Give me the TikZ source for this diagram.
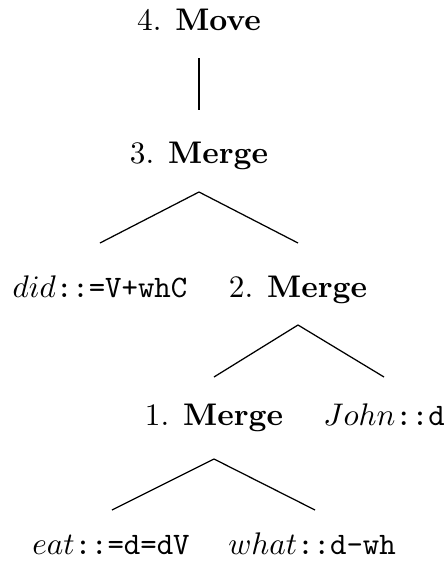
\documentclass[tikz,border=0pt]{standalone}
\usetikzlibrary{calc}
\begin{document}
\begin{tikzpicture}[x=0.32pt,y=0.32pt,
  lbl/.style={anchor=base,inner sep=0pt,font=\fontsize{10}{12}\selectfont},
  edge/.style={line width=0.4pt}]
\useasboundingbox (0,0) rectangle (444,-572);
\node[lbl] (m4) at (199,-31) {4. \textbf{Move}};
\node[lbl] (m3) at (199,-163) {3. \textbf{Merge}};
\node[lbl] (did) at (100,-297) {$did$\texttt{::=V+whC}};
\node[lbl] (m2) at (298,-297) {2. \textbf{Merge}};
\node[lbl] (m1) at (214,-425) {1. \textbf{Merge}};
\node[lbl] (john) at (384,-425) {$John$\texttt{::d}};
\node[lbl] (eat) at (111,-554) {$eat$\texttt{::=d=dV}};
\node[lbl] (what) at (312,-554) {$what$\texttt{::d-wh}};
\draw[edge] ($(m4.base)+(0,-27)$) -- ($(m3.base)+(0,53)$);
\draw[edge] ($(m3.base)+(0,-29)$) -- ($(did.base)+(0,54)$);
\draw[edge] ($(m3.base)+(0,-29)$) -- ($(m2.base)+(0,54)$);
\draw[edge] ($(m2.base)+(0,-28)$) -- ($(m1.base)+(0,48)$);
\draw[edge] ($(m2.base)+(0,-28)$) -- ($(john.base)+(0,48)$);
\draw[edge] ($(m1.base)+(0,-34)$) -- ($(eat.base)+(1,44)$);
\draw[edge] ($(m1.base)+(0,-34)$) -- ($(what.base)+(3,44)$);
\end{tikzpicture}
\end{document}
